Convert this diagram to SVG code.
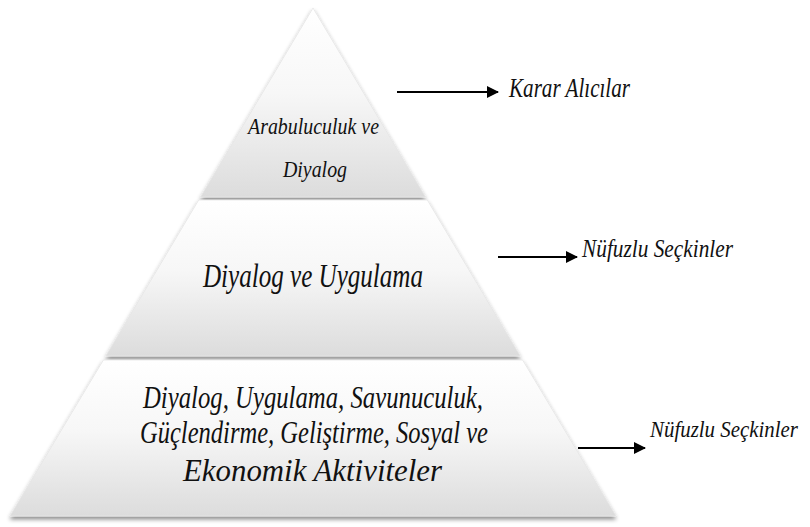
<svg xmlns="http://www.w3.org/2000/svg" width="810" height="527" viewBox="0 0 810 527">
  <defs>
    <linearGradient id="tierFill" x1="0" y1="0" x2="0" y2="1">
      <stop offset="0" stop-color="#ffffff"/>
      <stop offset="0.45" stop-color="#f7f7f7"/>
      <stop offset="1" stop-color="#dcdcdc"/>
    </linearGradient>
    <filter id="tierShadow" x="-10%" y="-10%" width="120%" height="125%">
      <feDropShadow dx="0" dy="3" stdDeviation="2" flood-color="#000" flood-opacity="0.45"/>
    </filter>
    <marker id="arrowHead" viewBox="0 0 12 12" refX="11" refY="6" markerWidth="12" markerHeight="12" markerUnits="userSpaceOnUse" orient="auto">
      <path d="M0,0 L12,6 L0,12 Z" fill="#000"/>
    </marker>
  </defs>
  <style>
    .tier { fill: url(#tierFill); stroke: #e6e6e6; stroke-width: 0.8; filter: url(#tierShadow); }
    .label { font-family: 'Liberation Serif', 'Times New Roman', serif; font-style: italic; fill: #111; }
    .conn { stroke: #000; stroke-width: 2; fill: none; marker-end: url(#arrowHead); }
  </style>

  <rect width="810" height="527" fill="#ffffff"/>

  <!-- pyramid tiers, top to bottom -->
  <g id="tier-top">
    <polygon class="tier" points="313,8 425.5,197 200.5,197"/>
    <text class="label" x="248" y="134" font-size="23" textLength="131" lengthAdjust="spacingAndGlyphs">Arabuluculuk ve</text>
    <text class="label" x="283" y="177" font-size="23" textLength="64" lengthAdjust="spacingAndGlyphs">Diyalog</text>
  </g>

  <g id="tier-middle">
    <polygon class="tier" points="198.7,200 427.3,200 520.2,356 105.8,356"/>
    <text class="label" x="203" y="287" font-size="34" textLength="220" lengthAdjust="spacingAndGlyphs">Diyalog ve Uygulama</text>
  </g>

  <g id="tier-bottom">
    <polygon class="tier" points="103.4,360 522.6,360 616,516 10,516"/>
    <text class="label" x="143" y="408" font-size="32" textLength="340" lengthAdjust="spacingAndGlyphs">Diyalog, Uygulama, Savunuculuk,</text>
    <text class="label" x="140" y="443" font-size="32" textLength="348" lengthAdjust="spacingAndGlyphs">Güçlendirme, Geliştirme, Sosyal ve</text>
    <text class="label" x="183" y="481" font-size="31" textLength="259" lengthAdjust="spacingAndGlyphs">Ekonomik Aktiviteler</text>
  </g>

  <!-- side annotations -->
  <g id="label-karar">
    <text class="label" x="509" y="97" font-size="27" textLength="121" lengthAdjust="spacingAndGlyphs">Karar Alıcılar</text>
  </g>
  <g id="label-nufuzlu-1">
    <text class="label" x="582" y="257" font-size="25" textLength="151" lengthAdjust="spacingAndGlyphs">Nüfuzlu Seçkinler</text>
  </g>
  <g id="label-nufuzlu-2">
    <text class="label" x="650" y="437" font-size="23" textLength="148" lengthAdjust="spacingAndGlyphs">Nüfuzlu Seçkinler</text>
  </g>

  <!-- connectors -->
  <g id="connectors">
    <line class="conn" x1="397" y1="92" x2="498" y2="92"/>
    <line class="conn" x1="498" y1="257" x2="577" y2="257"/>
    <line class="conn" x1="578" y1="448" x2="645" y2="448"/>
  </g>
</svg>
